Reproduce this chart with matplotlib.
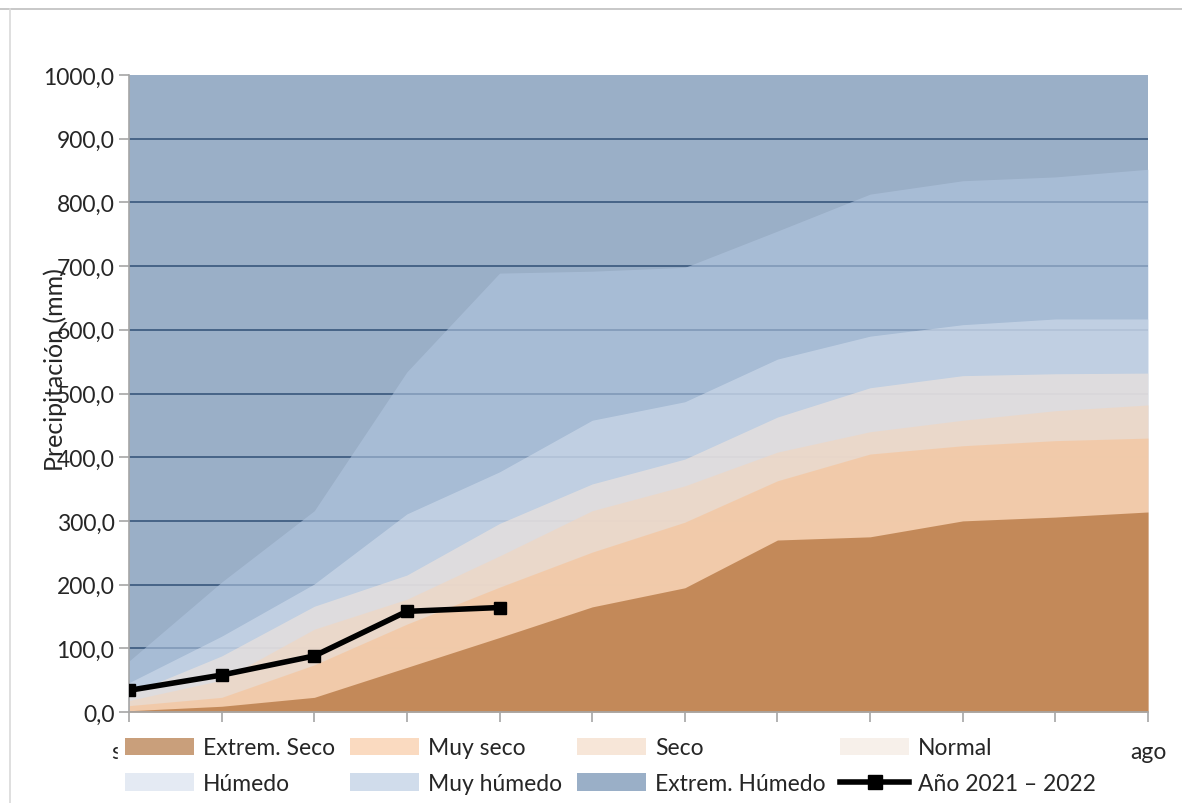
import numpy as np
import matplotlib.pyplot as plt
from matplotlib.lines import Line2D

plt.rcParams['font.family'] = ['Lato', 'DejaVu Sans']

meses = ['sep', 'oct', 'nov', 'dic', 'ene', 'feb', 'mar', 'abr', 'may', 'jun', 'jul', 'ago']

# limites superiores de cada banda (mm acumulados)
extrem_humedo = [1000, 1000, 1000, 1000, 1000, 1000, 1000, 1000, 1000, 1000, 1000, 1000]
muy_humedo = [80, 204, 316, 534, 689, 692, 698, 755, 813, 834, 840, 852]
humedo = [46, 119, 201, 311, 377, 458, 487, 554, 590, 608, 617, 617]
normal = [28, 88, 166, 215, 296, 358, 397, 463, 509, 528, 531, 532]
seco = [18, 50, 130, 177, 245, 316, 355, 408, 440, 458, 473, 482]
muy_seco = [10, 23, 74, 138, 196, 251, 298, 363, 405, 418, 426, 430]
extrem_seco = [2, 9, 23, 70, 117, 165, 195, 270, 275, 300, 306, 314]

anio_actual = [34, 58, 88, 158, 164]

y_ticks = [0, 100, 200, 300, 400, 500, 600, 700, 800, 900, 1000]
y_labels = ['0,0', '100,0', '200,0', '300,0', '400,0', '500,0', '600,0',
            '700,0', '800,0', '900,0', '1000,0']

bandas = [
    ('Extrem. Húmedo', extrem_humedo, '#577aa3'),
    ('Muy húmedo', muy_humedo, '#b1c5df'),
    ('Húmedo', humedo, '#d2ddec'),
    ('Normal', normal, '#f3e6dc'),
    ('Seco', seco, '#f3d6be'),
    ('Muy seco', muy_seco, '#f7c296'),
    ('Extrem. Seco', extrem_seco, '#a55f24'),
]

txt = '#262626'
fs = 16.5
fig = plt.figure(figsize=(11.82, 8.04), dpi=100)
ax = fig.add_axes([129 / 1182, 1 - 713 / 804, 1019 / 1182, 637 / 804])

x = np.arange(len(meses))
for v in y_ticks[1:-1]:
    ax.axhline(v, color='#1f3350', lw=1.3, zorder=0)

handles = {}
for nombre, vals, col in bandas:
    handles[nombre] = ax.fill_between(x, 0, vals, color=col, alpha=0.6, lw=0, zorder=1, label=nombre)

xa = np.arange(len(anio_actual))
ax.plot(xa, anio_actual, color='black', lw=4, marker='s', ms=8, zorder=5)
linea = Line2D([], [], color='black', lw=4, marker='s', ms=10)

ax.set_xlim(0, len(meses) - 1)
ax.set_ylim(0, 1000)
ax.set_xticks(x)
ax.set_xticklabels(meses, fontsize=fs, color=txt)
ax.set_yticks(y_ticks)
ax.set_yticklabels(y_labels, fontsize=fs, color=txt)
ax.tick_params(axis='both', direction='out', length=7, color='#a6a6a6', width=1.2)
ax.tick_params(axis='x', pad=14)
for s in ['top', 'right']:
    ax.spines[s].set_visible(False)
for s in ['left', 'bottom']:
    ax.spines[s].set_color('#a6a6a6')
    ax.spines[s].set_linewidth(1.2)

fig.text(55 / 1182, 1 - 370 / 804, 'Precipitación (mm)', rotation=90, fontsize=18,
         color=txt, ha='center', va='center')

orden = ['Extrem. Seco', 'Húmedo', 'Muy seco', 'Muy húmedo', 'Seco', 'Extrem. Húmedo', 'Normal']
hs = [handles[n] for n in orden] + [linea]
ls = orden + ['Año 2021 – 2022']
leg = fig.legend(hs, ls, ncol=4, loc='lower left', mode='expand',
                 bbox_to_anchor=(118 / 1182, 1 - 802 / 804, 985 / 1182, 74 / 804),
                 frameon=True, fontsize=fs, handlelength=3.0, handleheight=0.8,
                 handletextpad=0.4, labelspacing=0.65, borderaxespad=0, borderpad=0.3)
leg.get_frame().set_facecolor('white')
leg.get_frame().set_edgecolor('white')
leg.get_frame().set_alpha(1)
for t in leg.get_texts():
    t.set_color(txt)

# marco exterior
fig.add_artist(Line2D([0, 1], [1 - 10 / 804, 1 - 10 / 804], color='#bfbfbf', lw=1.2))
fig.add_artist(Line2D([10 / 1182, 10 / 1182], [0, 1 - 10 / 804], color='#d9d9d9', lw=1.2))

fig.savefig('out.png', dpi=100)
